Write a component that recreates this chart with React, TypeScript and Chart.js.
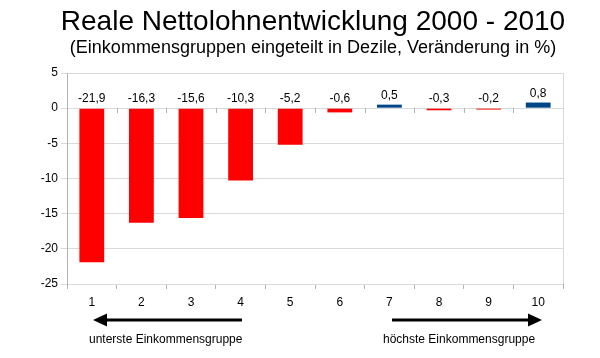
import React, { useEffect, useRef } from "react";
import { Chart, registerables } from "chart.js";

Chart.register(...registerables);

const categories = ["1", "2", "3", "4", "5", "6", "7", "8", "9", "10"];
const values = [-21.9, -16.3, -15.6, -10.3, -5.2, -0.6, 0.5, -0.3, -0.2, 0.8];
const yTicks = [5, 0, -5, -10, -15, -20, -25];
const titleText = "Reale Nettolohnentwicklung 2000 - 2010";
const subtitleText = "(Einkommensgruppen eingeteilt in Dezile, Veränderung in %)";
const leftNote = "unterste Einkommensgruppe";
const rightNote = "höchste Einkommensgruppe";

const RED = "#ff0000";
const BLUE = "#004586";
const FONT = "'Liberation Sans', Arial, sans-serif";

const fmt = (v: number) => v.toFixed(1).replace(".", ",");

const overlay = {
  id: "overlay",
  afterDraw(chart: any) {
    const ctx = chart.ctx as CanvasRenderingContext2D;
    const xs = chart.scales.x;
    const ys = chart.scales.y;
    const area = chart.chartArea;
    ctx.save();
    // titles
    ctx.fillStyle = "#000";
    ctx.textAlign = "center";
    ctx.textBaseline = "middle";
    ctx.font = `28px ${FONT}`;
    ctx.fillText(titleText, 313, 22);
    ctx.font = `18px ${FONT}`;
    ctx.fillText(subtitleText, 313, 48);

    // right border
    ctx.strokeStyle = "#d9d9d9";
    ctx.lineWidth = 1;
    ctx.beginPath();
    ctx.moveTo(Math.round(area.right) + 0.5, area.top);
    ctx.lineTo(Math.round(area.right) + 0.5, area.bottom);
    ctx.stroke();

    // tick marks at zero line
    const y0 = Math.round(ys.getPixelForValue(0));
    ctx.strokeStyle = "#b3b3b3";
    ctx.beginPath();
    for (let i = 0; i < categories.length - 1; i++) {
      const bx = Math.round((xs.getPixelForValue(i) + xs.getPixelForValue(i + 1)) / 2) + 0.5;
      ctx.moveTo(bx, y0);
      ctx.lineTo(bx, y0 + 5);
    }
    ctx.stroke();

    // data labels
    ctx.font = `12px ${FONT}`;
    ctx.fillStyle = "#000";
    ctx.textBaseline = "alphabetic";
    values.forEach((v, i) => {
      const x = xs.getPixelForValue(i);
      const top = ys.getPixelForValue(Math.max(v, 0));
      ctx.fillText(fmt(v), x, top - 6);
    });

    // arrows
    const ay = 320;
    ctx.strokeStyle = "#000";
    ctx.fillStyle = "#000";
    ctx.lineWidth = 3;
    ctx.beginPath();
    ctx.moveTo(104, ay);
    ctx.lineTo(242, ay);
    ctx.moveTo(392, ay);
    ctx.lineTo(530, ay);
    ctx.stroke();
    ctx.beginPath();
    ctx.moveTo(93, ay);
    ctx.lineTo(107, ay - 6.5);
    ctx.lineTo(107, ay + 6.5);
    ctx.closePath();
    ctx.moveTo(542, ay);
    ctx.lineTo(528, ay - 6.5);
    ctx.lineTo(528, ay + 6.5);
    ctx.closePath();
    ctx.fill();

    ctx.font = `12px ${FONT}`;
    ctx.textAlign = "left";
    ctx.textBaseline = "middle";
    ctx.fillText(leftNote, 89, 340);
    ctx.fillText(rightNote, 383, 340);
    ctx.restore();
  },
};

export default function App() {
  const ref = useRef<HTMLCanvasElement>(null);
  useEffect(() => {
    document.body.style.margin = "0";
    const chart = new Chart(ref.current!, {
      type: "bar",
      data: {
        labels: categories,
        datasets: [
          {
            data: values,
            backgroundColor: values.map((v) => (v >= 0 ? BLUE : RED)),
            barPercentage: 0.5,
            categoryPercentage: 1,
          },
        ],
      },
      options: {
        animation: false,
        responsive: false,
        layout: { padding: { top: 73, right: 37, bottom: 48, left: 0 } },
        plugins: { legend: { display: false }, tooltip: { enabled: false } },
        scales: {
          x: {
            offset: true,
            grid: { display: true, drawOnChartArea: false, offset: true, color: "#b3b3b3", tickLength: 5 },
            border: { display: false },
            ticks: { color: "#000", font: { family: FONT, size: 12 }, padding: 6 },
            afterFit: (s: any) => { s.height = 26; },
          },
          y: {
            min: -25,
            max: 5,
            afterBuildTicks: (s: any) => { s.ticks = yTicks.map((v) => ({ value: v })); },
            grid: { color: "#d9d9d9", tickLength: 6 },
            border: { display: true, color: "#b3b3b3" },
            ticks: { color: "#000", font: { family: FONT, size: 12 }, padding: 3 },
            afterFit: (s: any) => { s.width = 67; },
          },
        },
      },
      plugins: [overlay],
    });
    return () => chart.destroy();
  }, []);
  return (
    <div style={{ width: 600, height: 358, background: "#fff" }}>
      <canvas ref={ref} width={600} height={358} />
    </div>
  );
}
